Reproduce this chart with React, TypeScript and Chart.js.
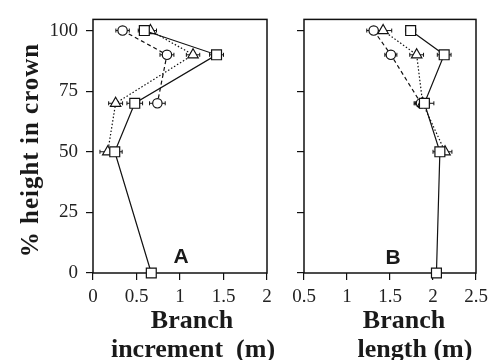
import React, { useEffect, useRef } from 'react';
import { Chart, registerables } from 'chart.js';
Chart.register(...registerables);

// % height in crown for each sampled level
const heights = [100, 90, 70, 50, 0];
const yTicks = [0, 25, 50, 75, 100];

// Panel A: branch increment (m)
const incSquare = [0.59, 1.42, 0.48, 0.25, 0.67];
const incSquareErr = [0.07, 0.08, 0.09, 0.085, 0];
const incTriangle = [0.66, 1.15, 0.26, 0.17];
const incTriangleErr = [0.07, 0.077, 0.08, 0.09];
const incCircle = [0.34, 0.85, 0.74];
const incCircleErr = [0.077, 0.08, 0.09];
const xTicksA = [0, 0.5, 1, 1.5, 2];

// Panel B: branch length (m)
const lenSquare = [1.74, 2.13, 1.9, 2.08, 2.04];
const lenSquareErr = [0.06, 0.08, 0.11, 0.08, 0];
const lenTriangle = [1.42, 1.81, 1.88, 2.14];
const lenTriangleErr = [0.1, 0.08, 0.08, 0.08];
const lenCircle = [1.31, 1.51, 1.86];
const lenCircleErr = [0.08, 0.07, 0.08];
const xTicksB = [0.5, 1, 1.5, 2, 2.5];

const SERIF = '"Liberation Serif", "Times New Roman", serif';
const SANS = '"Liberation Sans", Arial, sans-serif';

const pts = (xs: number[], errs: number[]) =>
  xs.map((x, i) => ({ x, y: heights[i], err: errs[i] }));

const makeDatasets = (sq: number[], sqE: number[], tr: number[], trE: number[], ci: number[], ciE: number[]) => [
  {
    label: 'square',
    data: pts(sq, sqE),
    showLine: true,
    borderColor: '#111',
    borderWidth: 1.2,
    pointStyle: 'rect',
    pointRadius: 7,
    pointBackgroundColor: '#fff',
    pointBorderColor: '#111',
    pointBorderWidth: 1.2,
    clip: false,
  },
  {
    label: 'triangle',
    data: pts(tr, trE),
    showLine: true,
    borderColor: '#111',
    borderWidth: 1.2,
    borderDash: [1.5, 2],
    pointStyle: 'triangle',
    pointRadius: 6,
    pointBackgroundColor: '#fff',
    pointBorderColor: '#111',
    pointBorderWidth: 1.2,
    clip: false,
  },
  {
    label: 'circle',
    data: pts(ci, ciE),
    showLine: true,
    borderColor: '#111',
    borderWidth: 1.2,
    borderDash: [4, 3],
    pointStyle: 'circle',
    pointRadius: 4.7,
    pointBackgroundColor: '#fff',
    pointBorderColor: '#111',
    pointBorderWidth: 1.2,
    clip: false,
  },
];

const framePlugin = {
  id: 'frame',
  beforeDatasetsDraw(chart: any) {
    const { ctx, chartArea: a } = chart;
    ctx.save();
    ctx.strokeStyle = '#111';
    ctx.lineWidth = 1.5;
    ctx.strokeRect(a.left, a.top, a.right - a.left, a.bottom - a.top);
    ctx.restore();
  },
};

const errorPlugin = {
  id: 'errorBars',
  beforeDatasetsDraw(chart: any) {
    const { ctx } = chart;
    const xs = chart.scales.x;
    const ys = chart.scales.y;
    ctx.save();
    ctx.strokeStyle = '#111';
    ctx.lineWidth = 1;
    chart.data.datasets.forEach((ds: any) => {
      ds.data.forEach((p: any) => {
        if (!p.err) return;
        const py = ys.getPixelForValue(p.y);
        const x1 = xs.getPixelForValue(p.x - p.err);
        const x2 = xs.getPixelForValue(p.x + p.err);
        ctx.beginPath();
        ctx.moveTo(x1, py);
        ctx.lineTo(x2, py);
        ctx.moveTo(x1, py - 2);
        ctx.lineTo(x1, py + 2);
        ctx.moveTo(x2, py - 2);
        ctx.lineTo(x2, py + 2);
        ctx.stroke();
      });
    });
    ctx.restore();
  },
};

const textPlugin = {
  id: 'texts',
  afterDraw(chart: any) {
    const items = chart.options.plugins.texts?.items || [];
    const { ctx } = chart;
    items.forEach((t: any) => {
      ctx.save();
      ctx.font = t.font;
      ctx.fillStyle = '#1a1a1a';
      ctx.textAlign = 'center';
      ctx.textBaseline = 'alphabetic';
      if (t.spacing) (ctx as any).letterSpacing = t.spacing;
      ctx.translate(t.x, t.y);
      if (t.rotate) ctx.rotate(t.rotate);
      ctx.fillText(t.text, 0, 0);
      ctx.restore();
    });
  },
};

const makeConfig = (
  datasets: any[],
  xMin: number,
  xMax: number,
  xTicks: number[],
  padLeft: number,
  padRight: number,
  showYLabels: boolean,
  texts: any[]
): any => ({
  type: 'scatter',
  data: { datasets },
  plugins: [framePlugin, errorPlugin, textPlugin],
  options: {
    animation: false,
    responsive: false,
    events: [],
    layout: { padding: { left: padLeft, right: padRight, top: 12, bottom: 37 } },
    plugins: {
      legend: { display: false },
      tooltip: { enabled: false },
      texts: { items: texts },
    },
    scales: {
      x: {
        type: 'linear',
        min: xMin,
        max: xMax,
        afterBuildTicks: (s: any) => {
          s.ticks = xTicks.map((v) => ({ value: v }));
        },
        afterFit: (s: any) => {
          s.height = 50;
        },
        border: { display: false },
        grid: { drawOnChartArea: false, drawTicks: true, tickLength: 7, color: '#111', lineWidth: 1.2 },
        ticks: {
          autoSkip: false,
          maxRotation: 0,
          padding: 6,
          color: '#222',
          font: { family: SERIF, size: 19 },
          callback: (v: any) => String(v),
        },
      },
      y: {
        type: 'linear',
        min: 0,
        max: 104.6,
        afterBuildTicks: (s: any) => {
          s.ticks = yTicks.map((v) => ({ value: v }));
        },
        afterFit: (s: any) => {
          s.width = 60;
        },
        border: { display: false },
        grid: { drawOnChartArea: false, drawTicks: true, tickLength: 7, color: '#111', lineWidth: 1.2 },
        ticks: {
          padding: 8,
          color: '#222',
          font: { family: SERIF, size: 19 },
          callback: (v: any) => (showYLabels ? String(v) : ''),
        },
      },
    },
  },
});

export default function App() {
  const refA = useRef<HTMLCanvasElement>(null);
  const refB = useRef<HTMLCanvasElement>(null);

  useEffect(() => {
    const titleFont = `bold 26px ${SERIF}`;
    const letterFont = `bold 21px ${SANS}`;
    const chartA = new Chart(
      refA.current!,
      makeConfig(
        makeDatasets(incSquare, incSquareErr, incTriangle, incTriangleErr, incCircle, incCircleErr),
        0,
        2,
        xTicksA,
        33,
        227,
        true,
        [
          { text: 'Branch', x: 192, y: 328, font: titleFont },
          { text: 'increment  (m)', x: 193, y: 357, font: titleFont },
          { text: 'A', x: 181, y: 263, font: letterFont },
          { text: '% height in crown', x: 38, y: 150, font: `bold 25px ${SERIF}`, rotate: -Math.PI / 2, spacing: '1px' },
        ]
      )
    );
    const chartB = new Chart(
      refB.current!,
      makeConfig(
        makeDatasets(lenSquare, lenSquareErr, lenTriangle, lenTriangleErr, lenCircle, lenCircleErr),
        0.5,
        2.5,
        xTicksB,
        244,
        18,
        false,
        [
          { text: 'Branch', x: 404, y: 328, font: titleFont },
          { text: 'length (m)', x: 415, y: 357, font: titleFont },
          { text: 'B', x: 393, y: 264, font: letterFont },
        ]
      )
    );
    return () => {
      chartA.destroy();
      chartB.destroy();
    };
  }, []);

  const style: React.CSSProperties = { position: 'absolute', left: 0, top: 0 };
  return (
    <div style={{ position: 'absolute', left: 0, top: 0, width: 494, height: 360, background: '#fff' }}>
      <canvas ref={refA} width={494} height={360} style={style} />
      <canvas ref={refB} width={494} height={360} style={style} />
    </div>
  );
}
